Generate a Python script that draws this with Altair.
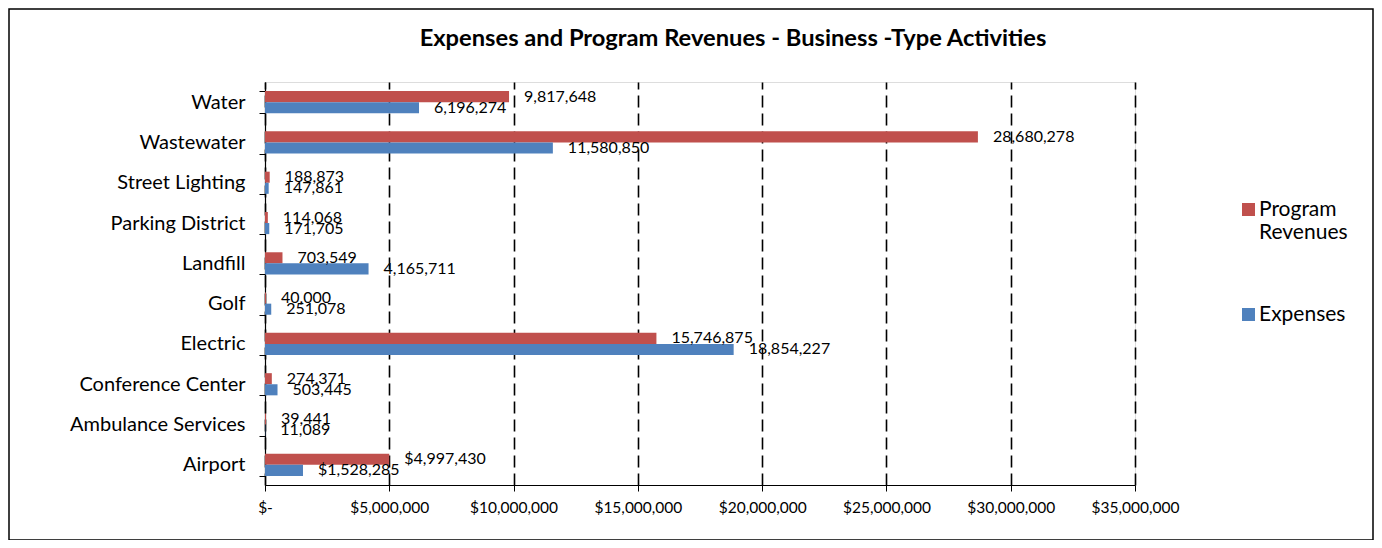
import altair as alt
import pandas as pd

categories = ["Water", "Wastewater", "Street Lighting", "Parking District", "Landfill",
              "Golf", "Electric", "Conference Center", "Ambulance Services", "Airport"]
program_revenues = [9817648, 28680278, 188873, 114068, 703549, 40000, 15746875, 274371, 39441, 4997430]
expenses = [6196274, 11580850, 147861, 171705, 4165711, 251078, 18854227, 503445, 11089, 1528285]
series = ["Program Revenues", "Expenses"]
colors = ["#C0504D", "#4F81BD"]
dollar_categories = ["Airport"]
x_ticks = [0, 5000000, 10000000, 15000000, 20000000, 25000000, 30000000, 35000000]
title_text = "Expenses and Program Revenues - Business -Type Activities"

rows = []
for cat, rev, exp in zip(categories, program_revenues, expenses):
    for s, v in zip(series, [rev, exp]):
        lab = (f"${v:,}" if cat in dollar_categories else f"{v:,}")
        rows.append({"category": cat, "series": s, "value": v, "label": lab})
df = pd.DataFrame(rows)

FONT = "Lato"

y_enc = alt.Y("category:N", sort=categories, title=None,
              scale=alt.Scale(paddingInner=0.45, paddingOuter=0.225),
              axis=alt.Axis(tickBand="extent", domainColor="black", tickColor="black",
                            tickSize=6, labelPadding=14, labelFontSize=20, labelColor="black",
                            labelFont=FONT, grid=False, labelLimit=300, domainWidth=1.2))
yoff = alt.YOffset("series:N", sort=series, scale=alt.Scale(domain=series, paddingInner=0, paddingOuter=0))
x_enc = alt.X("value:Q", title=None, scale=alt.Scale(domain=[0, 35000000], nice=False),
              axis=alt.Axis(values=x_ticks,
                            labelExpr="datum.value == 0 ? '$-' : '$' + format(datum.value, ',')",
                            labelOverlap=False, labelFlush=False,
                            grid=True, gridDash=[12, 6], gridColor="black", gridWidth=1.6,
                            domainColor="black", domainWidth=1.2, tickColor="black", tickSize=6,
                            labelPadding=9, labelFontSize=15.5, labelColor="black", labelFont=FONT))

color_enc = alt.Color("series:N",
                      scale=alt.Scale(domain=series, range=colors),
                      legend=alt.Legend(title=None, orient="none", legendX=973, legendY=117,
                                        symbolType="square", symbolSize=170, symbolStrokeWidth=0,
                                        labelFontSize=21, labelFont=FONT, labelColor="black",
                                        labelExpr="datum.label == 'Program Revenues' ? ['Program', 'Revenues'] : datum.label",
                                        labelBaseline="middle", labelOffset=0,
                                        rowPadding=60, padding=0))

bars = alt.Chart(df).mark_bar().encode(x=x_enc, y=y_enc, yOffset=yoff, color=color_enc)
texts = alt.Chart(df).mark_text(align="left", baseline="middle", dx=15, fontSize=16,
                                font=FONT, color="black").encode(
    x="value:Q", y=alt.Y("category:N", sort=categories), yOffset=alt.YOffset("series:N", sort=series),
    text="label:N")

border = alt.Chart(pd.DataFrame({"a": [0]})).mark_rect(
    fillOpacity=0, stroke="black", strokeWidth=1.5).encode(
    x=alt.value(-256), x2=alt.value(1108), y=alt.value(-73), y2=alt.value(458))

chart = alt.layer(bars, texts, border).properties(
    width=870, height=403,
    title=alt.TitleParams(title_text, font=FONT, fontSize=23.7, fontWeight="bold", color="black",
                          anchor="middle", dx=33, offset=-42, frame="group"),
    autosize=alt.AutoSizeParams(type="none"),
    padding={"left": 257, "top": 74, "right": 239, "bottom": 55},
).configure_view(stroke=None).configure(background="white")

chart.save("out.html", embed_options={"renderer": "svg", "actions": False})
